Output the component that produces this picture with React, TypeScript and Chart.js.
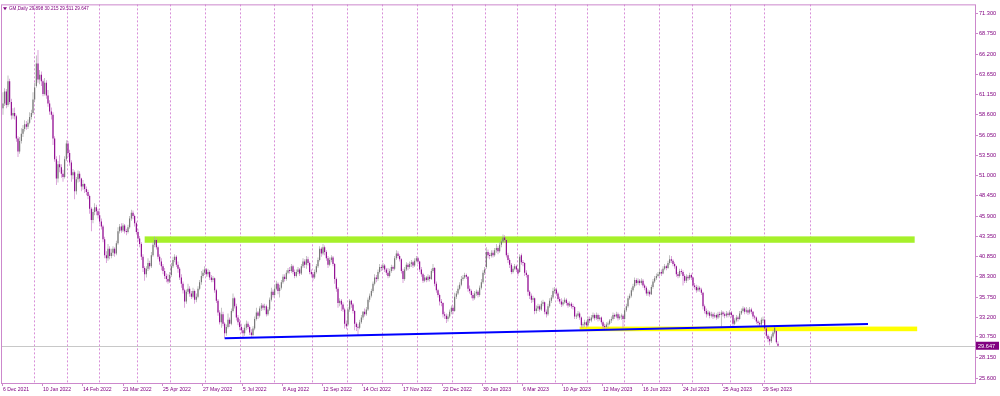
import React, { useEffect, useRef } from "react";
import { Chart, registerables } from "chart.js";
Chart.register(...registerables);

// ---- Daily OHLC (bar index 0 = 6 Dec 2021) ----
const OPEN = [
59.4,60.0,61.5,59.8,62.8,60.2,58.5,58.8,58.4,55.6,
54.0,55.3,56.2,56.8,57.4,57.1,57.6,58.3,58.8,60.5,
62.2,65.0,63.0,63.6,62.8,61.2,62.6,61.0,60.0,59.0,
58.6,55.6,53.0,50.6,52.4,52.0,51.2,50.8,53.0,55.0,
53.8,52.6,51.0,51.4,49.0,50.5,51.2,50.6,49.6,49.9,
49.3,48.9,48.4,46.8,45.4,46.4,47.0,46.5,46.0,45.2,
44.6,43.0,41.0,40.6,41.8,40.9,41.3,41.8,41.2,42.5,
44.0,44.6,44.1,44.7,44.0,43.9,44.5,45.6,46.3,45.9,
45.0,43.9,43.1,42.4,40.8,39.4,38.6,39.3,40.0,39.6,
41.0,42.3,42.9,42.0,40.8,40.2,39.6,39.0,38.4,38.0,
37.7,38.5,39.6,40.4,40.8,39.8,39.3,38.2,37.4,36.6,
35.2,36.4,36.8,36.2,35.8,36.5,35.4,35.8,36.8,37.6,
38.4,38.8,39.2,38.6,38.9,38.2,37.9,38.1,36.6,35.3,
33.8,32.6,33.6,32.4,31.2,32.0,32.9,32.4,34.0,35.6,
34.6,33.2,32.6,32.0,31.6,31.2,31.9,32.4,32.0,31.3,
31.0,31.8,33.0,33.8,33.4,34.3,34.7,34.4,34.6,33.6,
34.2,35.4,36.4,36.0,36.8,37.4,36.5,36.9,37.6,38.3,
38.0,38.8,39.1,39.0,39.6,38.9,38.4,38.9,39.2,38.7,
39.6,40.2,39.8,40.5,40.0,38.9,38.6,38.2,38.9,39.6,
40.4,41.8,41.2,42.0,41.4,40.6,39.8,40.4,40.7,39.9,
38.0,36.8,35.0,35.3,34.8,34.2,32.4,32.3,34.2,35.3,
34.8,34.0,32.4,32.0,31.9,32.6,33.2,33.9,33.6,34.2,
35.4,35.9,36.5,37.4,38.2,38.0,38.9,39.5,39.4,39.7,
39.2,38.8,38.4,39.0,39.5,39.3,40.6,41.2,40.9,40.5,
39.0,38.0,39.2,39.8,39.5,39.9,40.1,39.7,40.3,40.6,
40.2,39.2,38.6,37.8,38.2,37.9,38.3,38.0,39.0,39.4,
37.4,36.6,36.0,35.2,35.0,33.6,33.4,33.0,33.3,33.9,
34.4,34.0,35.8,36.2,36.8,37.3,38.0,38.2,38.5,38.3,
36.8,36.5,36.0,35.6,36.2,36.4,36.0,36.9,37.6,38.8,
39.5,41.4,41.0,40.9,41.3,41.0,41.6,41.9,41.5,42.3,
42.7,43.2,42.9,41.0,40.4,39.8,38.9,39.3,39.6,39.2,
38.9,41.0,40.1,40.0,38.8,38.5,36.4,35.9,35.4,35.6,
34.0,34.3,34.6,34.2,34.9,35.1,33.9,33.6,34.6,35.3,
35.7,36.5,36.7,36.2,35.5,35.2,34.8,35.1,35.4,35.0,
34.7,34.9,34.6,34.5,33.3,33.4,33.7,33.2,32.2,32.3,
32.6,32.2,33.0,32.8,33.2,33.5,33.1,33.5,33.0,33.2,
32.6,32.1,32.0,32.3,32.4,32.8,33.0,33.5,33.3,33.6,
33.1,33.3,33.4,33.0,34.1,34.6,35.6,35.9,36.6,37.1,
37.9,37.5,37.8,37.5,37.8,37.2,36.9,36.2,36.4,36.1,
37.0,37.7,38.1,38.4,38.6,38.9,38.7,39.3,39.6,39.4,
40.0,40.5,40.3,39.9,39.6,38.6,38.4,39.0,38.9,38.4,
37.8,38.3,38.1,38.5,38.2,37.2,37.0,36.6,36.9,36.7,
36.3,34.6,34.0,33.6,33.8,33.4,33.6,33.3,33.5,33.2,
33.6,33.5,33.8,33.6,33.4,33.7,33.5,33.8,33.5,32.4,
32.8,33.2,33.0,33.7,34.0,34.3,33.9,34.1,33.8,34.2,
33.9,33.3,33.2,32.7,32.5,32.3,32.8,32.9,31.8,30.9,
30.5,30.2,30.8,31.3,31.5,29.898];

const HIGH = [
61.4,61.9,61.8,63.5,63.1,60.6,59.4,59.5,58.6,55.9,
55.8,56.9,57.3,57.9,57.8,58.0,58.9,59.2,61.4,62.6,
66.0,66.7,64.2,64.0,63.0,63.2,62.9,61.7,60.4,59.5,
58.9,55.9,53.4,52.8,53.5,52.4,51.7,53.4,55.4,55.3,
54.2,52.9,51.8,51.6,50.8,51.6,51.5,50.7,50.4,50.0,
49.6,49.2,48.6,47.0,46.8,47.5,47.3,46.8,46.5,45.6,
44.8,43.3,41.5,42.4,42.1,41.8,42.1,42.0,42.8,44.5,
44.9,45.0,45.0,44.9,44.3,44.8,45.9,46.7,46.6,46.1,
45.2,44.3,43.4,42.6,41.1,39.6,39.6,40.6,40.3,41.4,
42.6,43.3,43.1,42.2,41.1,40.6,39.9,39.4,38.7,38.6,
38.9,40.0,40.8,41.1,41.0,40.2,39.5,38.6,37.7,36.8,
36.7,37.4,37.1,36.5,36.9,36.7,36.2,37.1,37.9,39.0,
39.2,39.6,39.4,39.3,39.1,38.5,38.4,38.2,36.8,35.5,
34.1,34.4,33.9,32.6,32.3,33.7,33.2,34.3,36.2,35.8,
34.9,33.5,33.0,32.4,31.9,32.3,32.8,32.7,32.2,31.7,
32.1,33.3,34.4,34.0,34.6,35.0,34.9,34.9,34.8,34.5,
35.7,36.9,36.7,37.2,37.8,37.6,37.3,37.9,38.6,38.6,
39.1,39.4,39.5,39.9,39.8,39.2,39.2,39.5,39.4,39.9,
40.6,40.5,40.9,40.8,40.2,39.2,38.9,39.2,39.9,40.7,
42.1,42.0,42.4,42.2,41.6,40.9,40.7,41.0,40.9,40.0,
38.2,37.0,35.6,35.5,35.1,34.4,32.8,34.5,35.5,35.4,
35.0,34.1,32.6,32.4,32.9,33.5,34.0,34.3,34.5,35.7,
36.2,36.8,37.7,38.6,38.5,39.2,39.9,39.8,40.0,39.9,
39.4,39.4,39.3,39.8,39.7,40.9,41.6,41.5,41.1,40.6,
39.3,39.5,40.1,40.0,40.2,40.4,40.3,40.6,40.9,40.8,
40.3,39.5,38.8,38.5,38.4,38.6,38.5,39.3,39.9,39.5,
37.7,36.8,36.2,35.5,35.1,33.9,33.7,33.6,34.2,34.7,
34.7,36.3,36.5,37.2,37.6,38.4,38.5,38.8,38.7,38.4,
37.2,36.7,36.3,36.5,36.7,36.6,37.2,38.0,39.1,39.5,
42.0,41.7,41.3,41.6,41.6,41.9,42.4,42.1,42.6,43.0,
43.6,43.5,43.0,41.3,40.6,40.0,39.6,39.9,39.8,39.4,
41.1,41.2,40.4,40.1,39.1,38.6,36.6,36.2,35.9,35.7,
34.7,34.9,34.8,35.3,35.4,35.2,34.2,34.9,35.6,36.0,
36.9,37.0,36.9,36.4,35.8,35.6,35.4,35.7,35.6,35.2,
35.2,35.1,34.9,34.6,33.7,34.0,33.9,33.3,32.6,32.9,
32.8,33.3,33.3,33.5,33.8,33.7,33.8,33.7,33.5,33.3,
32.8,32.4,32.6,32.7,33.0,33.3,33.8,33.7,33.9,33.8,
33.6,33.7,33.6,34.4,34.9,35.9,36.2,36.9,37.4,38.2,
38.1,38.1,38.0,38.1,38.0,37.4,37.1,36.7,36.6,37.3,
38.0,38.4,38.7,38.9,39.3,39.2,39.6,39.9,39.8,40.3,
41.0,40.9,40.5,40.1,39.7,38.9,39.3,39.3,39.1,38.6,
38.6,38.5,38.8,38.7,38.3,37.5,37.3,37.2,37.1,36.9,
36.4,34.8,34.3,34.1,34.0,33.9,33.8,33.8,33.7,33.9,
33.9,34.1,34.0,33.8,34.0,33.9,34.1,34.0,33.6,33.1,
33.5,33.4,34.0,34.3,34.6,34.5,34.5,34.3,34.5,34.4,
34.0,33.5,33.3,32.9,32.7,33.2,33.3,33.0,32.0,31.1,
30.8,31.1,31.6,32.2,31.6,30.215];

const LOW = [
58.6,59.7,59.4,59.6,59.9,58.0,58.1,58.0,55.2,53.3,
53.7,55.0,55.8,56.5,56.7,56.8,57.4,58.0,58.6,60.2,
62.0,62.6,62.4,62.2,60.9,61.0,60.6,59.6,58.6,58.0,
54.8,52.7,49.8,50.1,51.4,50.7,50.2,50.6,52.8,53.3,
52.2,50.2,50.5,48.0,48.6,50.1,50.2,49.0,49.2,48.8,
48.5,48.0,46.2,44.0,45.0,46.0,46.0,45.6,44.9,44.2,
42.6,40.6,40.0,40.3,40.5,40.6,40.9,40.8,41.0,42.3,
43.7,43.8,43.9,43.7,43.5,43.7,44.3,45.3,45.5,44.6,
43.6,42.7,42.0,40.4,38.9,37.8,38.2,39.0,39.2,39.4,
40.8,42.0,41.7,40.5,39.8,39.1,38.6,38.0,37.6,37.4,
37.5,38.3,39.4,40.1,39.5,38.8,37.9,36.9,36.2,34.4,
34.9,36.1,35.8,35.5,35.6,34.9,35.1,35.6,36.6,37.3,
38.1,38.5,38.3,38.3,37.9,37.6,37.6,36.3,35.0,33.4,
32.3,31.9,32.1,30.6,30.9,31.8,32.0,32.2,33.8,34.3,
32.8,32.2,31.6,31.2,30.7,30.9,31.6,31.7,31.0,30.7,
30.8,31.6,32.8,33.0,33.2,34.0,34.1,34.1,33.3,33.4,
34.0,35.2,35.7,35.8,36.6,36.1,35.7,36.7,37.4,37.7,
37.8,38.6,38.7,38.8,38.6,38.1,38.2,38.6,38.4,38.5,
39.4,39.4,39.3,39.7,38.6,38.2,37.8,38.0,38.7,39.4,
40.2,40.8,41.0,41.0,40.3,39.4,39.6,40.1,39.6,37.4,
36.4,34.4,34.6,34.0,33.9,31.8,31.7,32.1,33.9,34.4,
33.7,31.6,31.5,31.0,31.7,32.4,32.9,33.3,33.4,34.0,
35.1,35.7,36.3,37.2,37.6,37.8,38.7,39.0,39.2,38.9,
38.5,38.1,38.2,38.8,39.0,39.1,40.4,40.6,40.2,38.7,
37.5,37.8,39.0,39.1,39.3,39.5,39.4,39.5,40.1,39.9,
38.9,38.3,37.5,37.6,37.6,37.7,37.7,37.9,38.8,37.1,
36.3,35.7,34.7,34.6,33.2,33.0,32.5,32.7,33.1,33.6,
33.6,33.9,35.5,36.0,36.6,37.1,37.8,38.0,38.0,36.4,
36.2,35.6,35.3,35.4,35.9,35.7,35.8,36.7,37.4,38.5,
39.3,40.6,40.5,40.7,40.7,40.8,41.3,41.1,41.3,42.0,
42.5,42.6,40.7,40.0,39.4,38.6,38.7,39.1,38.9,38.4,
38.8,39.8,39.6,38.4,38.2,35.9,35.5,35.0,35.1,33.6,
33.7,34.0,33.9,34.0,34.6,33.6,33.2,33.4,34.4,35.0,
35.5,36.2,35.9,35.2,34.9,34.5,34.6,34.9,34.7,34.4,
34.5,34.3,34.2,33.0,33.0,33.2,32.9,31.9,31.9,32.0,
31.9,32.0,32.5,32.6,33.0,32.8,32.9,32.7,32.8,32.3,
31.8,31.6,31.8,31.9,32.2,32.5,32.8,33.0,33.1,32.8,
32.9,32.9,31.9,32.9,33.9,34.4,35.4,35.7,36.4,36.9,
37.2,37.3,37.2,37.3,36.9,36.6,35.9,35.9,35.8,36.0,
36.8,37.5,37.9,38.2,38.4,38.4,38.6,39.1,39.1,39.3,
39.8,40.0,39.6,39.3,38.3,38.1,38.2,38.6,37.2,37.5,
37.5,37.8,37.9,37.9,36.9,36.7,36.3,36.4,36.4,36.0,
34.2,33.7,33.2,33.4,33.1,33.2,33.0,33.1,32.9,33.0,
33.2,32.0,33.3,33.1,33.2,33.2,33.3,33.2,31.9,32.2,
32.6,32.7,32.9,33.5,33.8,33.6,33.7,33.5,33.6,33.6,
33.0,32.9,32.4,32.2,32.0,32.1,32.5,31.5,30.6,30.1,
29.7,30.0,30.6,31.1,29.9,29.511];

const CLOSE = [
60.0,61.5,59.8,62.8,60.2,58.5,58.8,58.4,55.6,54.0,
55.3,56.2,56.8,57.4,57.1,57.6,58.3,58.8,60.5,62.0,
65.0,63.0,63.6,62.8,61.2,62.6,61.0,60.0,59.0,58.6,
55.6,53.0,50.6,52.4,52.0,51.2,50.8,53.0,55.0,53.8,
52.6,51.0,51.4,49.0,50.5,51.2,50.6,49.6,49.9,49.3,
48.9,48.4,46.8,45.4,46.4,47.0,46.5,46.0,45.2,44.6,
43.0,41.0,40.6,41.8,40.9,41.3,41.8,41.2,42.5,44.0,
44.6,44.1,44.7,44.0,43.9,44.5,45.6,46.3,45.9,45.0,
43.9,43.1,42.4,40.8,39.4,38.6,39.3,40.0,39.6,41.0,
42.3,42.9,42.0,40.8,40.2,39.6,39.0,38.4,38.0,37.7,
38.5,39.6,40.4,40.8,39.8,39.3,38.2,37.4,36.6,35.2,
36.4,36.8,36.2,35.8,36.5,35.4,35.8,36.8,37.6,38.4,
38.8,39.2,38.6,38.9,38.2,37.9,38.1,36.6,35.3,33.8,
32.6,33.6,32.4,31.2,32.0,32.9,32.4,34.0,35.6,34.6,
33.2,32.6,32.0,31.6,31.2,31.9,32.4,32.0,31.3,31.0,
31.8,33.0,33.8,33.4,34.3,34.7,34.4,34.6,33.6,34.2,
35.4,36.4,36.0,36.8,37.4,36.5,36.9,37.6,38.3,38.0,
38.8,39.1,39.0,39.6,38.9,38.4,38.9,39.2,38.7,39.6,
40.2,39.8,40.5,40.0,38.9,38.6,38.2,38.9,39.6,40.4,
41.8,41.2,42.0,41.4,40.6,39.8,40.4,40.7,39.9,38.0,
36.8,35.0,35.3,34.8,34.2,32.4,32.1,34.2,35.3,34.8,
34.0,32.4,32.0,31.9,32.6,33.2,33.9,33.6,34.2,35.4,
35.9,36.5,37.4,38.2,38.0,38.9,39.5,39.4,39.7,39.2,
38.8,38.4,39.0,39.5,39.3,40.6,41.2,40.9,40.5,39.0,
38.0,39.2,39.8,39.5,39.9,40.1,39.7,40.3,40.6,40.2,
39.2,38.6,37.8,38.2,37.9,38.3,38.0,39.0,39.4,37.4,
36.6,36.0,35.2,35.0,33.6,33.4,33.0,33.3,33.9,34.4,
34.0,35.8,36.2,36.8,37.3,38.0,38.2,38.5,38.3,36.8,
36.5,36.0,35.6,36.2,36.4,36.0,36.9,37.6,38.8,39.2,
41.4,41.0,40.9,41.3,41.0,41.6,41.9,41.5,42.3,42.7,
43.2,42.9,41.0,40.4,39.8,38.9,39.3,39.6,39.2,38.7,
40.8,40.1,40.0,38.8,38.5,36.4,35.9,35.4,35.6,34.0,
34.3,34.6,34.2,34.9,35.1,33.9,33.6,34.6,35.3,35.7,
36.5,36.7,36.2,35.5,35.2,34.8,35.1,35.4,35.0,34.7,
34.9,34.6,34.5,33.3,33.4,33.7,33.2,32.2,32.3,32.6,
32.2,33.0,32.8,33.2,33.5,33.1,33.5,33.0,33.2,32.6,
32.1,32.0,32.3,32.4,32.8,33.0,33.5,33.3,33.6,33.1,
33.3,33.4,33.0,34.1,34.6,35.6,35.9,36.6,37.1,37.9,
37.5,37.8,37.5,37.8,37.2,36.9,36.2,36.4,36.1,37.0,
37.7,38.1,38.4,38.6,38.9,38.7,39.3,39.6,39.4,40.0,
40.5,40.3,39.9,39.6,38.6,38.4,39.0,38.9,38.4,37.8,
38.3,38.1,38.5,38.2,37.2,37.0,36.6,36.9,36.7,36.3,
34.6,34.0,33.6,33.8,33.4,33.6,33.3,33.5,33.2,33.6,
33.5,33.8,33.6,33.4,33.7,33.5,33.8,33.5,32.4,32.8,
33.2,33.0,33.7,34.0,34.3,33.9,34.1,33.8,34.2,33.9,
33.3,33.2,32.7,32.5,32.3,32.9,32.9,31.8,30.9,30.5,
30.2,30.8,31.3,31.9,30.1,29.647];

// ---- axes ----
const DATE_LABELS = ["6 Dec 2021","10 Jan 2022","14 Feb 2022","21 Mar 2022","25 Apr 2022","27 May 2022","5 Jul 2022","8 Aug 2022","12 Sep 2022","14 Oct 2022","17 Nov 2022","22 Dec 2022","30 Jan 2023","6 Mar 2023","10 Apr 2023","12 May 2023","16 Jun 2023","24 Jul 2023","25 Aug 2023","29 Sep 2023"];
const DATE_LABEL_BARS = [0,24,48,72,96,120,144,168,192,216,240,264,288,312,336,360,384,408,432,456];
const MONTH_START_BARS = [19,39,58,81,101,122,143,163,186,207,228,249,270,290,309,332,351,373,394,414,437,457,485];
const PRICE_TICKS = [25.6,28.15,30.75,33.2,35.75,38.3,40.85,43.35,45.9,48.45,51.0,53.5,56.05,58.6,61.15,63.65,66.2,68.75,71.3];

// ---- drawn objects ----
const TREND_BARS = [133, 519];
const TREND_PRICES = [30.6, 32.37];
const GREEN_ZONE_BARS = [85, 547];
const GREEN_ZONE_PRICES = [42.55, 43.35];
const YELLOW_ZONE_BARS = [346, 548.5];
const YELLOW_ZONE_PRICES = [31.47, 32.05];
const SYMBOL = "GM,Daily";

const TEXT_COLOR = "#800080";
const AXIS_COLOR = "#cc88cc";
const GRID_COLOR = "#d88fd8";
const BULL_BODY = "#707070";
const BULL_WICK = "#a8a8a8";
const BEAR_BODY = "#8b008b";
const BEAR_WICK = "#cc80cc";
const FONT = "'Liberation Sans', Arial, sans-serif";

export default function App() {
  const ref = useRef<HTMLCanvasElement>(null);

  useEffect(() => {
    document.body.style.margin = "0";
    const canvas = ref.current!;
    const last = CLOSE.length - 1;
    const lastClose = CLOSE[last];
    const up = CLOSE.map((c, i) => c >= OPEN[i]);

    const overlay = {
      id: "overlay",
      beforeDatasetsDraw(chart: any) {
        const { ctx, chartArea: a, scales } = chart;
        const x = scales.x, y = scales.y;
        ctx.save();
        ctx.beginPath();
        ctx.rect(a.left, a.top, a.right - a.left, a.bottom - a.top);
        ctx.clip();
        ctx.strokeStyle = GRID_COLOR;
        ctx.lineWidth = 1;
        ctx.setLineDash([2, 2]);
        for (const m of MONTH_START_BARS) {
          const px = Math.round(x.getPixelForValue(m - 0.5)) + 0.5;
          ctx.beginPath();
          ctx.moveTo(px, a.top);
          ctx.lineTo(px, a.bottom);
          ctx.stroke();
        }
        ctx.setLineDash([]);
        const py = Math.round(y.getPixelForValue(lastClose)) + 0.5;
        ctx.strokeStyle = "#c8c8c8";
        ctx.beginPath();
        ctx.moveTo(a.left, py);
        ctx.lineTo(a.right, py);
        ctx.stroke();
        const zone = (bars: number[], prices: number[], color: string) => {
          const x0 = x.getPixelForValue(bars[0]);
          const x1 = x.getPixelForValue(bars[1]);
          const y0 = y.getPixelForValue(prices[1]);
          const y1 = y.getPixelForValue(prices[0]);
          ctx.fillStyle = color;
          ctx.fillRect(x0, y0, x1 - x0, y1 - y0);
        };
        zone(GREEN_ZONE_BARS, GREEN_ZONE_PRICES, "#a6f02a");
        zone(YELLOW_ZONE_BARS, YELLOW_ZONE_PRICES, "#ffff00");
        ctx.restore();
      },
      afterDraw(chart: any) {
        const { ctx, chartArea: a, scales } = chart;
        const y = scales.y;
        ctx.save();
        ctx.strokeStyle = AXIS_COLOR;
        ctx.lineWidth = 1;
        ctx.strokeRect(a.left + 0.5, a.top + 0.5, a.right - a.left, a.bottom - a.top);
        const py = y.getPixelForValue(lastClose);
        ctx.fillStyle = TEXT_COLOR;
        ctx.fillRect(a.right + 1, py - 4, 23, 8);
        ctx.fillStyle = "#ffffff";
        ctx.font = `5.6px ${FONT}`;
        ctx.textBaseline = "middle";
        ctx.textAlign = "left";
        ctx.fillText(lastClose.toFixed(3), a.right + 3, py + 0.5);
        ctx.fillStyle = TEXT_COLOR;
        ctx.beginPath();
        ctx.moveTo(a.left + 2, a.top + 3);
        ctx.lineTo(a.left + 6, a.top + 3);
        ctx.lineTo(a.left + 4, a.top + 6);
        ctx.closePath();
        ctx.fill();
        ctx.font = `4.6px ${FONT}`;
        const title = `${SYMBOL} ${OPEN[last].toFixed(3)} ${HIGH[last].toFixed(3)} ${LOW[last].toFixed(3)} ${CLOSE[last].toFixed(3)}`;
        ctx.fillText(title, a.left + 8, a.top + 4.5);
        ctx.restore();
      },
    };

    const chart = new Chart(canvas, {
      type: "bar",
      data: {
        datasets: [
          {
            type: "line",
            data: TREND_BARS.map((b, k) => ({ x: b, y: TREND_PRICES[k] })),
            borderColor: "#0000ff",
            borderWidth: 2,
            pointRadius: 0,
            order: 0,
          } as any,
          {
            type: "bar",
            data: CLOSE.map((c, i) => ({ x: i, y: [OPEN[i], c] })),
            backgroundColor: up.map((u) => (u ? BULL_BODY : BEAR_BODY)),
            barThickness: 1.1,
            minBarLength: 1,
            grouped: false,
            borderWidth: 0,
            inflateAmount: 0,
            order: 1,
          } as any,
          {
            type: "bar",
            data: CLOSE.map((_c, i) => ({ x: i, y: [LOW[i], HIGH[i]] })),
            backgroundColor: up.map((u) => (u ? BULL_WICK : BEAR_WICK)),
            barThickness: 0.7,
            grouped: false,
            borderWidth: 0,
            inflateAmount: 0,
            order: 2,
          } as any,
        ],
      },
      options: {
        animation: false,
        responsive: false,
        devicePixelRatio: 1,
        events: [],
        layout: { padding: { left: 1, top: 1, right: 0, bottom: 0 } },
        plugins: { legend: { display: false }, tooltip: { enabled: false } },
        scales: {
          x: {
            type: "linear",
            min: -1.2,
            max: 583.2,
            offset: false,
            afterBuildTicks: (s: any) => {
              s.ticks = DATE_LABEL_BARS.map((v) => ({ value: v }));
            },
            afterFit: (s: any) => {
              s.height = 13;
            },
            ticks: {
              callback: (_v: any, i: number) => DATE_LABELS[i],
              align: "start",
              maxRotation: 0,
              minRotation: 0,
              autoSkip: false,
              padding: 1,
              color: TEXT_COLOR,
              font: { family: FONT, size: 5.1 },
            },
            grid: { drawOnChartArea: false, tickLength: 3, color: AXIS_COLOR, offset: false },
            border: { display: false },
          },
          y: {
            type: "linear",
            position: "right",
            min: 24.98,
            max: 72.42,
            beginAtZero: false,
            afterBuildTicks: (s: any) => {
              s.ticks = PRICE_TICKS.map((v) => ({ value: v }));
            },
            afterFit: (s: any) => {
              s.width = 25;
            },
            ticks: {
              callback: (v: any) => Number(v).toFixed(3),
              autoSkip: false,
              padding: 1,
              color: TEXT_COLOR,
              font: { family: FONT, size: 5.6 },
            },
            grid: { drawOnChartArea: false, tickLength: 3, color: AXIS_COLOR },
            border: { display: false },
          },
        },
      } as any,
      plugins: [overlay],
    });
    return () => chart.destroy();
  }, []);

  return (
    <canvas
      ref={ref}
      width={1000}
      height={396}
      style={{ display: "block", width: 1000, height: 396 }}
    />
  );
}
